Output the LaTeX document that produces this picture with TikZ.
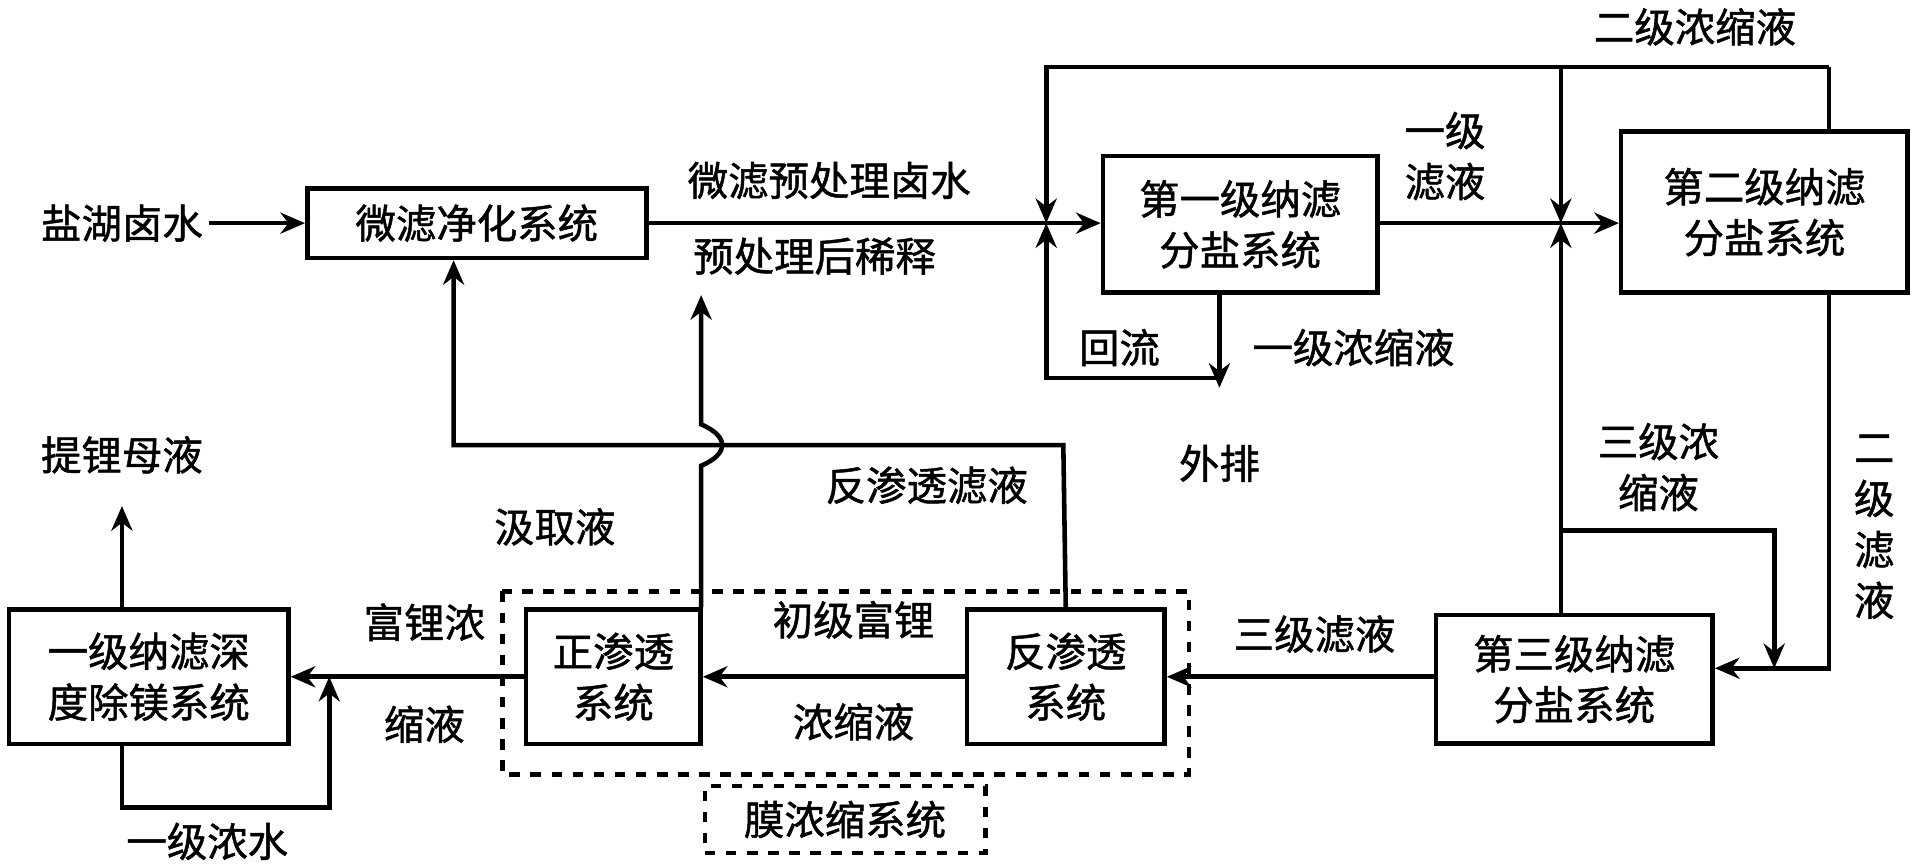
\documentclass[tikz,border=0pt]{standalone}
\usepackage{fontspec}
\setmainfont{Noto Sans CJK SC}[AutoFakeBold=1.2]
\usetikzlibrary{arrows.meta}
\begin{document}
\begin{tikzpicture}[x=0.012194cm,y=-0.012194cm,line width=1.3pt,
  font=\fontsize{11.5}{14.5}\selectfont\bfseries,
  box/.style={draw,align=center,inner sep=0pt},
  flow/.style={-{Stealth[length=7pt,width=6pt]}},
  lab/.style={align=center,inner sep=1pt}]
\useasboundingbox (0,0) rectangle (1568,711);

		\node[lab] (Brine) at (100,183) {盐湖卤水};
		\node[box,minimum width=278*0.012194cm,minimum height=57*0.012194cm] (MF) at (391,183) {微滤净化系统};

        \node[box,minimum width=225*0.012194cm,minimum height=112*0.012194cm] (NF1) at (1017,184) {第一级纳滤\\分盐系统};
        \node[box,minimum width=235*0.012194cm,minimum height=132*0.012194cm] (NF2) at (1447,174) {第二级纳滤\\分盐系统};
        \node[box,minimum width=227*0.012194cm,minimum height=105*0.012194cm] (NF3) at (1291,557) {第三级纳滤\\分盐系统};

        \node[box,minimum width=162*0.012194cm,minimum height=110*0.012194cm] (RO) at (874,555) {反渗透\\系统};
        \node[box,minimum width=143*0.012194cm,minimum height=110*0.012194cm] (FO) at (503,555) {正渗透\\系统};
        \node[box,minimum width=229*0.012194cm,minimum height=110*0.012194cm] (DeMg) at (122,555) {一级纳滤深\\度除镁系统};

        \draw[dashed] (412,485) rectangle (975,635);
        \node[box,dashed,minimum width=230*0.012194cm,minimum height=55*0.012194cm] (Membrane) at (693,672) {膜浓缩系统};

        %% junctions
        \coordinate (J1) at (858,183);
        \coordinate (J2) at (1280,183);
        \coordinate (Top1) at (858,55);
        \coordinate (Top2) at (1280,55);
        \coordinate (Top3) at (1500,55);
        \coordinate (Back) at (858,310);
        \coordinate (Out) at (1000,318);
        \coordinate (Split) at (1280,435);
        \coordinate (Split2) at (1455,435);
        \coordinate (Side) at (1500,548);
        \coordinate (JMg) at (270,555);

        \draw[flow] (Brine) -- (MF);
        \draw[flow] (MF.east) -- (NF1.west |- J1);
        \draw[flow] (NF1.east |- J2) -- (NF2.west |- J2);
        \draw[flow] (Top3) -- (Top1) -- (J1);
        \draw (NF2.north -| Top3) -- (Top3);
        \draw[flow] (Top2) -- (J2);
        \draw[flow] (NF1.south -| Out) -- (Out);
        \draw[flow] (Back -| Out) -- (Back) -- (J1);
        \draw[flow] (NF3.north -| J2) -- (J2);
        \draw[flow] (Split) -- (Split2) -- (Split2 |- Side);
        \draw[flow] (NF2.south -| Side) -- (Side) -- (NF3.east |- Side);
        \draw[flow] (NF3.west |- RO) -- (RO.east);
        \draw[flow] (RO.west) -- (FO.east);
        \draw[flow] (FO.west) -- (DeMg.east);
        \draw[flow] (RO.north) -- (872,365) -- (372,365) -- (MF.south -| 372,0);
        \draw[flow] (FO.north -| 575,0) -- (575,382) .. controls (598,372) and (598,358) .. (575,348) -- (575,242);
        \draw[flow] (DeMg.south -| 100,0) -- (100,662) -- (270,662) -- (JMg);
        \draw[flow] (DeMg.north -| 100,0) -- (100,415);

        \node[lab] (L1) at (680,148) {微滤预处理卤水};
        \node[lab] (L2) at (668,210) {预处理后稀释};
        \node[lab] (L3) at (1185,128) {一级\\滤液};
        \node[lab] (L4) at (1390,22) {二级浓缩液};
        \node[lab] (L5) at (918,285) {回流};
        \node[lab] (L6) at (1110,285) {一级浓缩液};
        \node[lab] (L7) at (1000,380) {外排};
        \node[lab] (L8) at (1360,383) {三级浓\\缩液};
        \node[lab] (L9) at (1537,432) {二\\级\\滤\\液};
        \node[lab] (L10) at (1078,520) {三级滤液};
        \node[lab] (L11) at (700,550) {初级富锂\\\\浓缩液};
        \node[lab] (L12) at (760,398) {反渗透滤液};
        \node[lab] (L13) at (455,432) {汲取液};
        \node[lab] (L14) at (348,552) {富锂浓\\\\缩液};
        \node[lab] (L15) at (170,690) {一级浓水};
        \node[lab] (L16) at (100,373) {提锂母液};
	\end{tikzpicture}
\end{document}
